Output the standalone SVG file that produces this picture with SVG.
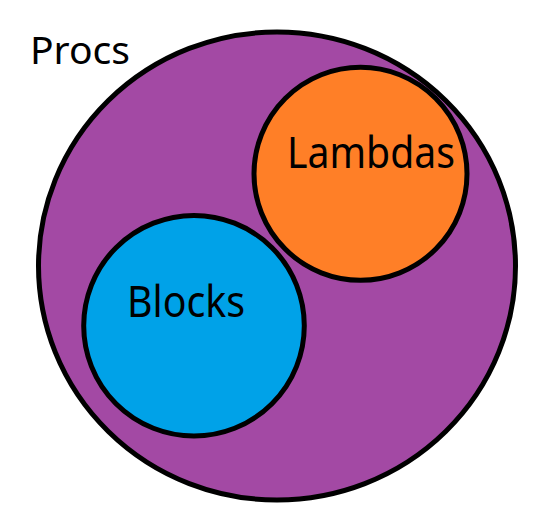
<svg xmlns="http://www.w3.org/2000/svg" width="535" height="516" viewBox="0 0 535 516">
<style>
.c{stroke:#000;stroke-width:5}
.t{font-family:"Noto Sans","Liberation Sans",sans-serif;fill:#000}
</style>
<rect width="535" height="516" fill="#fff"/>
<g id="procs">
<ellipse class="c" cx="277" cy="266" rx="238.5" ry="234" fill="#A349A4"/>
<text class="t" x="30" y="63.5" font-size="38" textLength="100" lengthAdjust="spacingAndGlyphs">Procs</text>
</g>
<g id="lambdas">
<circle class="c" cx="360.5" cy="173.8" r="106.5" fill="#FF7F27"/>
<text class="t" x="287" y="168.3" font-size="44" textLength="168" lengthAdjust="spacingAndGlyphs">Lambdas</text>
</g>
<g id="blocks">
<circle class="c" cx="194" cy="325.7" r="110.3" fill="#00A2E8"/>
<text class="t" x="127" y="316.7" font-size="44" textLength="118" lengthAdjust="spacingAndGlyphs">Blocks</text>
</g>
<g id="connectors"/>
</svg>
